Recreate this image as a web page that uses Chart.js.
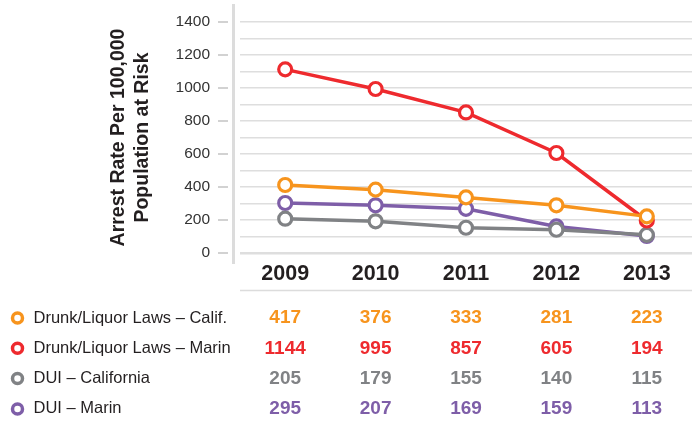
<!DOCTYPE html>
<html>
<head>
<meta charset="utf-8">
<script src="https://cdn.jsdelivr.net/npm/chart.js@4/dist/chart.umd.min.js"></script>
<style>
body { margin: 0; background: #fff; }
#wrap { width: 692px; height: 421px; }
</style>
</head>
<body>
<div id="wrap"><canvas id="arrestChart" width="692" height="421"></canvas></div>
<script>
// Data
const years = ['2009', '2010', '2011', '2012', '2013'];
const seriesNames = ['Drunk/Liquor Laws \u2013 Calif.', 'Drunk/Liquor Laws \u2013 Marin', 'DUI \u2013 California', 'DUI \u2013 Marin'];
const seriesColors = ['#f7941d', '#ee2a2e', '#808285', '#7e5ea8'];

// plotted positions (as drawn in the chart)
const drunkCalif = [412, 384, 337, 289, 222];
const drunkMarin = [1113, 994, 852, 606, 197];
const duiCalif = [208, 192, 153, 141, 110];
const duiMarin = [303, 289, 268, 161, 103];

// values printed in the table under the chart
const drunkCalifTable = ['417', '376', '333', '281', '223'];
const drunkMarinTable = ['1144', '995', '857', '605', '194'];
const duiCalifTable = ['205', '179', '155', '140', '115'];
const duiMarinTable = ['295', '207', '169', '159', '113'];

const yTicks = [0, 200, 400, 600, 800, 1000, 1200, 1400];
const yTitle = ['Arrest Rate Per 100,000', 'Population at Risk'];

const plotted = [drunkCalif, drunkMarin, duiCalif, duiMarin];
const tableRows = [drunkCalifTable, drunkMarinTable, duiCalifTable, duiMarinTable];

const FONT = "'Liberation Sans', Arial, sans-serif";

// axis line, tick dashes, rule under years, and the value table
const extrasPlugin = {
  id: 'extras',
  beforeDatasetsDraw(chart) {
    const ctx = chart.ctx;
    const y = chart.scales.y;
    ctx.save();
    ctx.strokeStyle = '#dcdcdc';
    ctx.lineWidth = 3;
    ctx.beginPath();
    ctx.moveTo(233.5, 4);
    ctx.lineTo(233.5, 264);
    ctx.stroke();
    ctx.lineWidth = 2;
    ctx.strokeStyle = '#d2d2d2';
    yTicks.forEach(v => {
      const py = y.getPixelForValue(v);
      ctx.beginPath();
      ctx.moveTo(218, py);
      ctx.lineTo(228, py);
      ctx.stroke();
    });
    ctx.restore();
  },
  afterDraw(chart) {
    const ctx = chart.ctx;
    const x = chart.scales.x;
    const area = chart.chartArea;
    ctx.save();
    ctx.strokeStyle = '#dcdcdc';
    ctx.lineWidth = 1.5;
    ctx.beginPath();
    ctx.moveTo(area.left, 290.5);
    ctx.lineTo(area.right, 290.5);
    ctx.stroke();

    ctx.textBaseline = 'middle';
    tableRows.forEach((row, i) => {
      const ry = 318 + i * 30.3;
      ctx.beginPath();
      ctx.arc(17.5, ry, 5, 0, Math.PI * 2);
      ctx.lineWidth = 3.5;
      ctx.strokeStyle = seriesColors[i];
      ctx.fillStyle = '#fff';
      ctx.fill();
      ctx.stroke();

      ctx.fillStyle = '#231f20';
      ctx.font = '16.5px ' + FONT;
      ctx.textAlign = 'left';
      ctx.fillText(seriesNames[i], 33.5, ry);

      ctx.fillStyle = seriesColors[i];
      ctx.font = 'bold 19px ' + FONT;
      ctx.textAlign = 'center';
      row.forEach((val, j) => {
        ctx.fillText(val, x.getPixelForValue(j), ry);
      });
    });
    ctx.restore();
  }
};

const ctx = document.getElementById('arrestChart').getContext('2d');
new Chart(ctx, {
  type: 'line',
  data: {
    labels: years,
    datasets: plotted.map((data, i) => ({
      label: seriesNames[i],
      data: data,
      borderColor: seriesColors[i],
      backgroundColor: '#fff',
      pointBackgroundColor: '#fff',
      pointBorderColor: seriesColors[i],
      borderWidth: 3.5,
      pointRadius: 6.5,
      pointBorderWidth: 3.2,
      tension: 0,
      fill: false
    }))
  },
  options: {
    responsive: false,
    animation: false,
    layout: { autoPadding: false, padding: { top: 22, right: 0, left: 0, bottom: 0 } },
    plugins: {
      legend: { display: false },
      tooltip: { enabled: false }
    },
    scales: {
      x: {
        offset: true,
        grid: { display: false, drawTicks: false },
        border: { display: false },
        ticks: {
          padding: 8,
          color: '#231f20',
          font: { family: FONT, size: 21.5, weight: 'bold' }
        },
        afterFit(scale) {
          scale.height = 168;
          scale.paddingLeft = 0;
          scale.paddingRight = 0;
        }
      },
      y: {
        min: 0,
        max: 1400,
        grid: {
          drawTicks: false,
          color: '#dedede',
          lineWidth: c => (c.tick && c.tick.value === 0 ? 2.5 : 1.5)
        },
        border: { display: false },
        ticks: {
          stepSize: 100,
          autoSkip: false,
          padding: 30,
          color: '#333333',
          font: { family: FONT, size: 15.5 },
          callback: v => (yTicks.includes(v) ? String(v) : '')
        },
        title: {
          display: true,
          text: yTitle,
          color: '#231f20',
          font: { family: FONT, size: 19.5, weight: 'bold', lineHeight: 1.23 },
          padding: { top: 107, bottom: 0 }
        },
        afterFit(scale) {
          scale.width = 240;
          scale.paddingTop = 0;
          scale.paddingBottom = 0;
        }
      }
    }
  },
  plugins: [extrasPlugin]
});
</script>
</body>
</html>
